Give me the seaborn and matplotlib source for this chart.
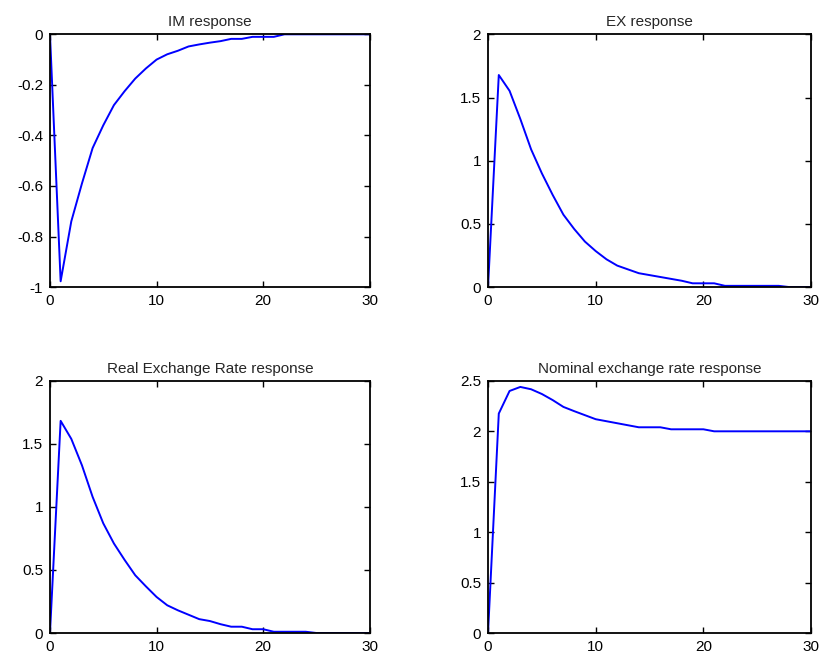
import matplotlib
matplotlib.use('Agg')
import matplotlib.pyplot as plt
import matplotlib.ticker as mticker
import seaborn as sns
import numpy as np
import pandas as pd

# periods 0..30
periods = list(range(31))

im_resp = [0, -0.977, -0.74, -0.59, -0.45, -0.36, -0.28, -0.225, -0.175, -0.135,
           -0.10, -0.079, -0.065, -0.048, -0.04, -0.033, -0.027, -0.018, -0.018,
           -0.01, -0.01, -0.01, 0, 0, 0, 0, 0, 0, 0, 0, 0]

ex_resp = [0, 1.678, 1.553, 1.33, 1.09, 0.90, 0.73, 0.573, 0.46, 0.36,
           0.285, 0.22, 0.17, 0.14, 0.11, 0.095, 0.08, 0.065, 0.05, 0.03,
           0.03, 0.03, 0.01, 0.01, 0.01, 0.01, 0.01, 0.01, 0, 0, 0]

rer_resp = [0, 1.683, 1.54, 1.33, 1.08, 0.87, 0.71, 0.58, 0.458, 0.37,
            0.286, 0.22, 0.18, 0.145, 0.11, 0.095, 0.07, 0.05, 0.05, 0.03,
            0.03, 0.01, 0.01, 0.01, 0.01, 0, 0, 0, 0, 0, 0]

ner_resp = [0, 2.176, 2.40, 2.44, 2.417, 2.37, 2.31, 2.242, 2.20, 2.16,
            2.12, 2.10, 2.08, 2.06, 2.04, 2.04, 2.04, 2.02, 2.02, 2.02,
            2.02, 2.00, 2.00, 2.00, 2.00, 2.00, 2.00, 2.00, 2.00, 2.00, 2.00]

titles = ['IM response', 'EX response', 'Real Exchange Rate response',
          'Nominal exchange rate response']
series = [im_resp, ex_resp, rer_resp, ner_resp]
ylims = [(-1, 0), (0, 2), (0, 2), (0, 2.5)]
ysteps = [0.2, 0.5, 0.5, 0.5]

sns.set_style('ticks')
plt.rcParams['font.family'] = ['Liberation Sans', 'DejaVu Sans']
plt.rcParams['axes.unicode_minus'] = False


def matlab_fmt(v, pos):
    v = round(v, 2) + 0.0
    return '%g' % v


fig = plt.figure(figsize=(8.22, 6.60), dpi=100)
positions = [
    [0.0608, 0.565, 0.389, 0.383],
    [0.5937, 0.565, 0.393, 0.383],
    [0.0608, 0.0409, 0.389, 0.382],
    [0.5937, 0.0409, 0.393, 0.382],
]

for pos, vals, title, (lo, hi), step in zip(positions, series, titles, ylims, ysteps):
    ax = fig.add_axes(pos)
    df = pd.DataFrame({'t': periods, 'v': vals})
    sns.lineplot(data=df, x='t', y='v', ax=ax, color='#0000FF', linewidth=1.4)
    ax.set_xlim(0, 30)
    ax.set_ylim(lo, hi)
    ax.set_xticks([0, 10, 20, 30])
    ax.set_yticks(np.round(np.arange(lo, hi + step / 2, step), 2))
    ax.xaxis.set_major_formatter(mticker.FuncFormatter(matlab_fmt))
    ax.yaxis.set_major_formatter(mticker.FuncFormatter(matlab_fmt))
    ax.set_xlabel('')
    ax.set_ylabel('')
    ax.set_title(title, fontsize=11, pad=6)
    ax.tick_params(direction='in', top=True, right=True, labelsize=11,
                   length=4, width=1, colors='black')
    ax.tick_params(axis='y', pad=5)
    ax.tick_params(axis='x', pad=5)
    for s in ax.spines.values():
        s.set_linewidth(1.3)
        s.set_color('black')

fig.savefig('out.png', dpi=100, facecolor='white')
